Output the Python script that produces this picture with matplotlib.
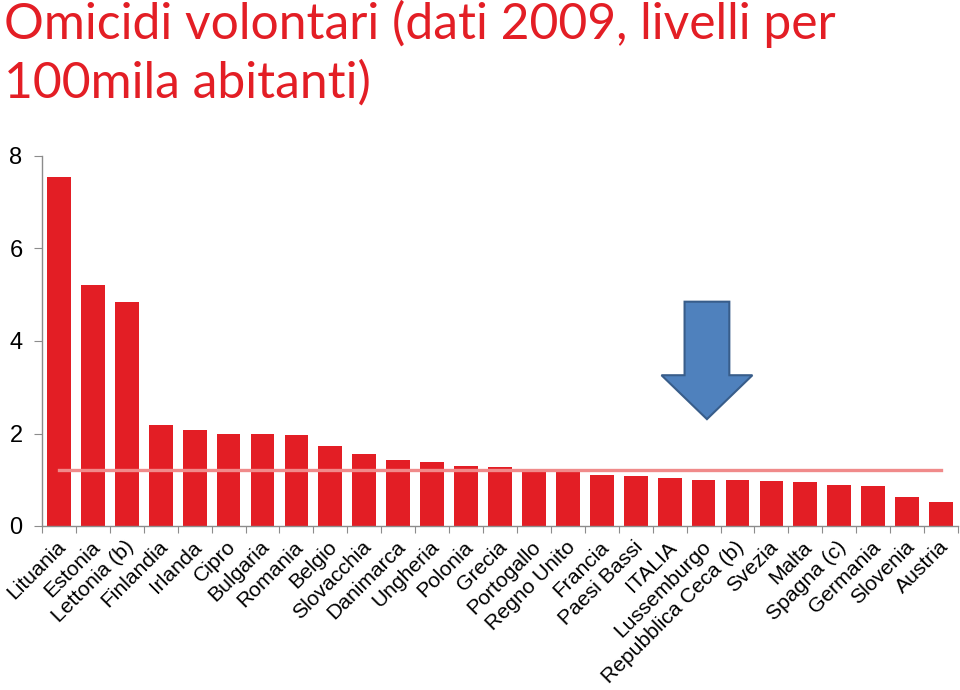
import matplotlib
matplotlib.use("Agg")
import matplotlib.pyplot as plt
from matplotlib.patches import FancyArrow
import numpy as np

countries = ["Lituania", "Estonia", "Lettonia (b)", "Finlandia", "Irlanda", "Cipro",
             "Bulgaria", "Romania", "Belgio", "Slovacchia", "Danimarca", "Ungheria",
             "Polonia", "Grecia", "Portogallo", "Regno Unito", "Francia", "Paesi Bassi",
             "ITALIA", "Lussemburgo", "Repubblica Ceca (b)", "Svezia", "Malta",
             "Spagna (c)", "Germania", "Slovenia", "Austria"]
values = [7.54, 5.22, 4.85, 2.18, 2.07, 2.00, 1.98, 1.96, 1.72, 1.55, 1.43, 1.39,
          1.29, 1.27, 1.20, 1.17, 1.11, 1.08, 1.04, 1.00, 1.00, 0.98, 0.96,
          0.89, 0.86, 0.63, 0.52]
eu_average = 1.22
yticks = [0, 2, 4, 6, 8]

title = "Omicidi volontari (dati 2009, livelli per\n100mila abitanti)"

RED = "#e31e25"
GRAY = "#8c8c8c"

fig = plt.figure(figsize=(9.6, 6.9), dpi=100)
ax = fig.add_axes([42/960, 164/690, 916/960, 370/690])

x = np.arange(len(countries))
ax.bar(x, values, width=0.7, color=RED, zorder=2)
ax.plot([x[0], x[-1]], [eu_average, eu_average], color="#f08a8a", lw=2.4, zorder=3)

ax.set_xlim(-0.5, len(countries) - 0.5)
ax.set_ylim(0, 8)

# boundary ticks (major) and labels near centers (minor, no tick marks)
ax.set_xticks(np.arange(len(countries) + 1) - 0.5)
ax.set_xticklabels([])
ax.set_xticks(x + 0.12, minor=True)
ax.set_xticklabels(countries, minor=True, rotation=45, ha="right", va="center",
                   rotation_mode="anchor", fontsize=15.2, family="Liberation Sans")
ax.tick_params(axis="x", which="major", length=5, color=GRAY, direction="out")
ax.tick_params(axis="x", which="minor", length=0, pad=13)

ax.set_yticks(yticks)
ax.set_yticklabels([str(v) for v in yticks], fontsize=17, family="Liberation Sans")
ax.tick_params(axis="y", length=6, color=GRAY, pad=8)

for s in ["top", "right"]:
    ax.spines[s].set_visible(False)
for s in ["left", "bottom"]:
    ax.spines[s].set_color(GRAY)
    ax.spines[s].set_linewidth(1.0)

# blue down arrow annotation
arrow = FancyArrow(19.1, 4.85, 0, -2.54, width=1.32, head_width=2.68,
                   head_length=0.95, length_includes_head=True,
                   facecolor="#4f81bd", edgecolor="#385d8a", lw=1.5, zorder=4)
ax.add_patch(arrow)

fig.text(0.004, 1.0, title, color=RED, fontsize=35.8, family="Lato",
         va="top", ha="left", linespacing=1.3)

fig.savefig("out.png", dpi=100)
